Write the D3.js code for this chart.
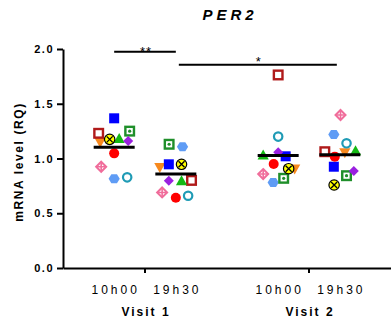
<!DOCTYPE html>
<html>
<head>
<meta charset="utf-8">
<script src="https://cdn.jsdelivr.net/npm/d3@7"></script>
<style>
  body { margin: 0; background: #fff; }
  svg { display: block; font-family: "Liberation Sans", Arial, sans-serif; }
  .axis path, .axis line { stroke: #000; stroke-width: 2; }
  .axis text { font-size: 11px; font-weight: bold; letter-spacing: 1.5px; fill: #000; }
</style>
</head>
<body>
<svg width="391" height="322"></svg>
<script>
// visits and sampling times
const visits = ['Visit 1', 'Visit 2'];
const times = ['10h00', '19h30'];
const yTicks = [0, 0.5, 1.0, 1.5, 2.0];

// one marker per subject, values in order V1-10h00, V1-19h30, V2-10h00, V2-19h30
const subjects = ['S1','S2','S3','S4','S5','S6','S7','S8','S9','S10','S11'];
const markers = ['triDown','openSquare','openCircle','crossDiamond','hexagon','square','circle','dotSquare','triUp','diamond','xCircle'];
const colors = ['#f7891e','#b01a1a','#1f9bb5','#f06d9b','#5f9cf5','#0000ff','#ff0000','#1f8f2a','#14b814','#9a20e0','#ffff00'];
const values = [
  [1.15, 0.92, 0.907, 1.056],
  [1.23, 0.80, 1.763, 1.062],
  [0.828, 0.66, 1.20, 1.139],
  [0.925, 0.69, 0.858, 1.397],
  [0.815, 1.108, 0.78, 1.22],
  [1.367, 0.947, 1.02, 0.925],
  [1.047, 0.642, 0.95, 1.017],
  [1.25, 1.13, 0.819, 0.843],
  [1.18, 0.795, 1.03, 1.068],
  [1.16, 0.797, 1.057, 0.886],
  [1.175, 0.947, 0.907, 0.758]
];
// horizontal dodge lanes (column scatter spreading)
const lanes = [
  [-1.4, -1.6, 1.65, 0.5],
  [-1.55, 1.57, 0, -1.5],
  [1.3, 1.23, 0, 0.67],
  [-1.3, -1.37, -1.5, 0.07],
  [0, 0.67, -0.5, -0.6],
  [0, -0.7, 0.75, -0.6],
  [0, 0, -0.45, -0.5],
  [1.55, -0.67, 0.55, 0.67],
  [0.5, 0.57, -1.5, 1.57],
  [1.4, -0.7, 0, 1.4],
  [-0.45, 0.57, 1.05, -0.57]
];
// significance brackets: group indices, label, level
const sigFrom = [0, 1];
const sigTo = [1, 3];
const sigLabel = ['**', '*'];
const sigLevel = [1.975, 1.857];

const groups = [];
visits.forEach(v => times.forEach(t => groups.push({ visit: v, time: t })));

const svg = d3.select('svg');

const y = d3.scaleLinear().domain([0, 2]).range([268, 49]);
const xVisit = d3.scaleBand().domain(visits).range([63, 391]).padding(0);
const xTime = d3.scalePoint().domain(times).range([0, xVisit.bandwidth()]).padding(0.83);
const gx = i => xVisit(groups[i].visit) + xTime(groups[i].time);
const lane = d3.scaleLinear().domain([0, 1]).range([0, 10]);

// marker shapes
function drawMarker(g, type, color) {
  const r = 5;
  if (type === 'square') {
    g.append('rect').attr('x', -r).attr('y', -r).attr('width', 2 * r).attr('height', 2 * r).attr('fill', color);
  } else if (type === 'openSquare' || type === 'dotSquare') {
    g.append('rect').attr('x', -4.3).attr('y', -4.3).attr('width', 8.6).attr('height', 8.6)
      .attr('fill', '#fff').attr('stroke', color).attr('stroke-width', 2.4);
    if (type === 'dotSquare') g.append('circle').attr('r', 1.6).attr('fill', color);
  } else if (type === 'circle') {
    g.append('circle').attr('r', r).attr('fill', color);
  } else if (type === 'openCircle') {
    g.append('circle').attr('r', 4.2).attr('fill', '#fff').attr('stroke', color).attr('stroke-width', 2.2);
  } else if (type === 'xCircle') {
    g.append('circle').attr('r', 5.2).attr('fill', color).attr('stroke', '#000').attr('stroke-width', 1.2);
    g.append('path').attr('d', 'M-3,-3L3,3M-3,3L3,-3').attr('stroke', '#000').attr('stroke-width', 1.3);
  } else if (type === 'triUp') {
    g.append('path').attr('d', 'M0,-5.8L5.6,4.2L-5.6,4.2Z').attr('fill', color);
  } else if (type === 'triDown') {
    g.append('path').attr('d', 'M0,5.8L5.6,-4.2L-5.6,-4.2Z').attr('fill', color);
  } else if (type === 'diamond') {
    g.append('path').attr('d', 'M0,-5L5,0L0,5L-5,0Z').attr('fill', color);
  } else if (type === 'crossDiamond') {
    g.append('path').attr('d', 'M0,-5L5,0L0,5L-5,0Z').attr('fill', '#fff')
      .attr('stroke', color).attr('stroke-width', 2);
    g.append('path').attr('d', 'M0,-5L0,5M-5,0L5,0').attr('stroke', color).attr('stroke-width', 1.6);
  } else if (type === 'hexagon') {
    const pts = d3.range(6).map(k => [5.6 * Math.cos(k * Math.PI / 3), 5.2 * Math.sin(k * Math.PI / 3)]);
    g.append('path').attr('d', 'M' + pts.join('L') + 'Z').attr('fill', color);
  }
}

// points
const points = [];
subjects.forEach((s, i) => {
  values[i].forEach((v, j) => points.push({ s, i, j, v }));
});

svg.append('g').selectAll('g.pt')
  .data(points)
  .join('g')
  .attr('class', 'pt')
  .attr('transform', d => `translate(${gx(d.j) + lane(lanes[d.i][d.j])},${y(d.v)})`)
  .each(function (d) { drawMarker(d3.select(this), markers[d.i], colors[d.i]); });

// mean lines
const means = groups.map((g, j) => d3.mean(values, row => row[j]));
svg.append('g').selectAll('line')
  .data(means)
  .join('line')
  .attr('x1', (d, j) => gx(j) - 20.5)
  .attr('x2', (d, j) => gx(j) + 20.5)
  .attr('y1', d => y(d))
  .attr('y2', d => y(d))
  .attr('stroke', '#000')
  .attr('stroke-width', 3);

// y axis
svg.append('g')
  .attr('class', 'axis')
  .attr('transform', 'translate(63,0)')
  .call(d3.axisLeft(y).tickValues(yTicks).tickFormat(d3.format('.1f')).tickSize(6).tickSizeOuter(0).tickPadding(3));

// x axis
svg.append('g')
  .attr('class', 'axis')
  .attr('transform', 'translate(0,268)')
  .call(d3.axisBottom(xVisit).tickFormat('').tickSize(5).tickSizeOuter(0));

// time labels
svg.append('g').selectAll('text')
  .data(groups)
  .join('text')
  .attr('x', (d, j) => gx(j) + 1.5)
  .attr('y', 294)
  .attr('text-anchor', 'middle')
  .style('font-size', '12px')
  .style('letter-spacing', '3px')
  .text(d => d.time);

// visit labels
svg.append('g').selectAll('text')
  .data(visits)
  .join('text')
  .attr('x', d => xVisit(d) + xVisit.bandwidth() / 2 + 1)
  .attr('y', 316)
  .attr('text-anchor', 'middle')
  .style('font-size', '12px')
  .style('font-weight', 'bold')
  .style('letter-spacing', '2px')
  .text(d => d);

// y title
svg.append('text')
  .attr('transform', 'translate(23,162) rotate(-90)')
  .attr('text-anchor', 'middle')
  .style('font-size', '12px')
  .style('font-weight', 'bold')
  .style('letter-spacing', '1.6px')
  .text('mRNA level (RQ)');

// title
svg.append('text')
  .attr('x', 230)
  .attr('y', 20)
  .attr('text-anchor', 'middle')
  .style('font-size', '15px')
  .style('font-weight', 'bold')
  .style('font-style', 'italic')
  .style('letter-spacing', '4px')
  .text('PER2');

// significance brackets
const sig = svg.append('g');
sigFrom.forEach((a, k) => {
  const x1 = gx(a) + (k > 0 ? 3 : 0);
  const x2 = gx(sigTo[k]) - (k > 0 ? 3 : 0);
  sig.append('line')
    .attr('x1', x1).attr('x2', x2)
    .attr('y1', y(sigLevel[k])).attr('y2', y(sigLevel[k]))
    .attr('stroke', '#000').attr('stroke-width', 2);
  sig.append('text')
    .attr('x', (x1 + x2) / 2 + 1)
    .attr('y', y(sigLevel[k]) + (k === 0 ? 4 : 1.5))
    .attr('text-anchor', 'middle')
    .style('font-size', '13px')
    .style('letter-spacing', '1px')
    .text(sigLabel[k]);
});
</script>
</body>
</html>
